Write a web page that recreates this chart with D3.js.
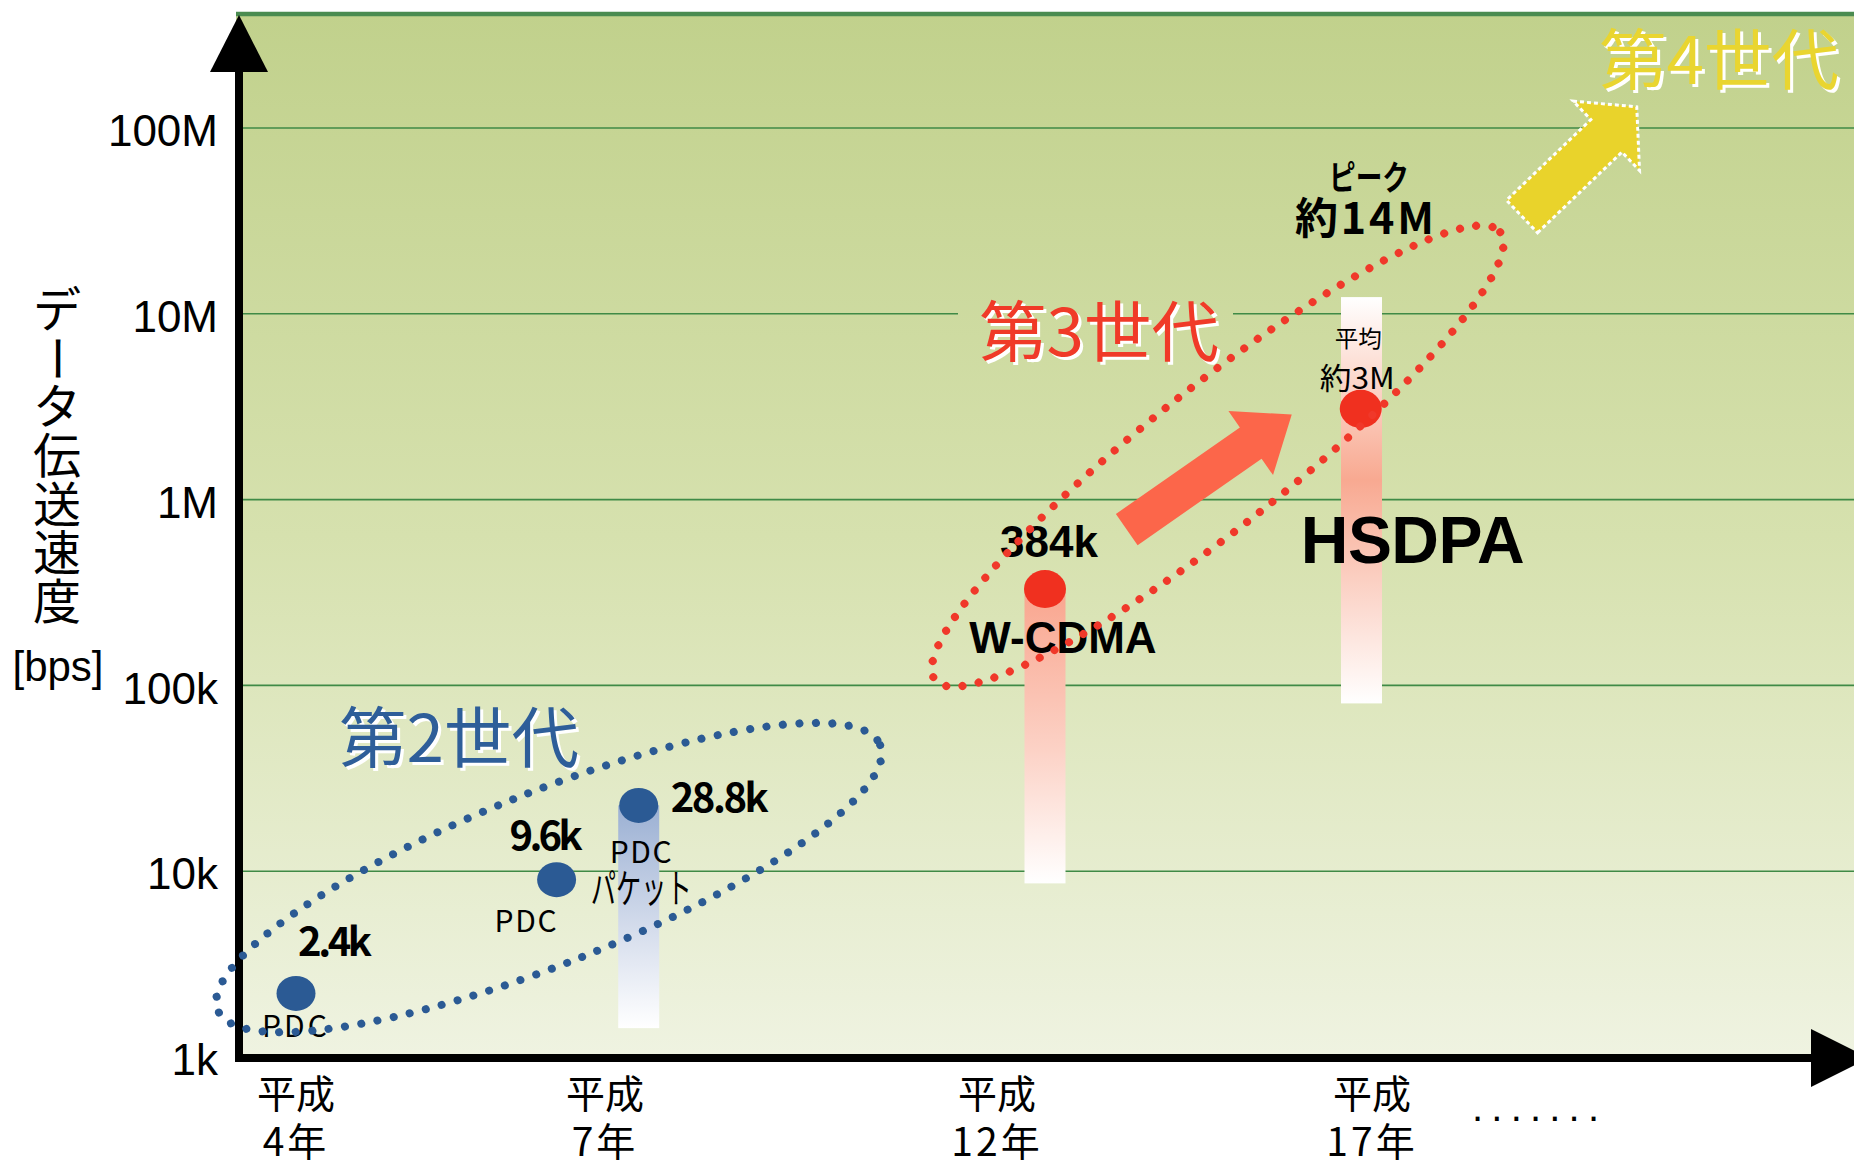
<!DOCTYPE html>
<html>
<head>
<meta charset="utf-8">
<script src="https://cdn.jsdelivr.net/npm/d3@7"></script>
<style>
  body { margin: 0; background: #fff; }
  svg { display: block; }
</style>
</head>
<body>
<div id="chart"></div>
<script>
var width = 1854,
    height = 1161;

var jp = "'Noto Sans CJK JP', sans-serif",
    latin = "'Liberation Sans', Arial, sans-serif";

// y axis (bps, log)
var yTicks = [1e3, 1e4, 1e5, 1e6, 1e7, 1e8],
    yTickLabels = ["1k", "10k", "100k", "1M", "10M", "100M"];

// x axis (Heisei year)
var years = [4, 7, 12, 17],
    yearLabels = ["4年", "7年", "12年", "17年"];

// measured points
var ptYear  = [4.0, 6.53, 7.43, 12.64, 16.85],
    ptValue = [2200, 9000, 22600, 330000, 3080000],
    ptGen   = [2, 2, 2, 3, 3];

// gradient columns
var barYear   = [7.43, 12.64, 16.86],
    barTop    = [22600, 330000, 12300000],
    barBottom = [1430, 8600, 80000],
    barFill   = ["barBlue", "barRed", "barHsdpa"];

// generation ellipses: end points (year, bps)
var ellBlue = [[3.24, 1790], [10.51, 47700]],
    ellRed  = [[11.21, 106900], [18.71, 27500000]];

// arrows: tail / tip (year, bps)
var arrowRed    = [[13.73, 690000], [15.93, 2870000]],
    arrowYellow = [[19.0, 33400000], [20.53, 130000000]];

var axisX = 239,
    plotTop = 14,
    blue = "#2b5a94",
    red = "#f0301f";

var x = d3.scaleLinear()
  .domain(years)
  .range([296, 605, 997, 1372]);

var y = d3.scaleLog()
  .domain([1e3, 1e8])
  .range([1057, 128]);

var svg = d3.select("#chart")
  .append("svg")
  .attr("width", width)
  .attr("height", height);

var defs = svg.append("defs");

function grad(id, stops, user) {
  var g = defs.append("linearGradient")
    .attr("id", id)
    .attr("x1", 0).attr("x2", 0);
  if (user) {
    g.attr("gradientUnits", "userSpaceOnUse")
      .attr("y1", user[0]).attr("y2", user[1]);
  } else {
    g.attr("y1", 0).attr("y2", 1);
  }
  stops.forEach(function(s) {
    g.append("stop").attr("offset", s[0]).attr("stop-color", s[1]);
  });
}

grad("bg", [[0, "#c1d18c"], [0.5, "#d6e1ae"], [1, "#eff3e1"]], [plotTop, y(1e3)]);
grad("barBlue", [[0, "#9bb0d3"], [0.6, "#d9e0ee"], [1, "#ffffff"]]);
grad("barRed", [[0, "#f9a58e"], [0.55, "#fcd2c6"], [1, "#ffffff"]]);
grad("barHsdpa", [[0, "#ffffff"], [0.15, "#fde2d9"], [0.45, "#f8a991"], [1, "#ffffff"]]);

// background
svg.append("rect")
  .attr("x", axisX - 3)
  .attr("y", plotTop)
  .attr("width", width - axisX + 3)
  .attr("height", y(1e3) - plotTop)
  .style("fill", "url(#bg)");

svg.append("line")
  .attr("x1", axisX - 3).attr("x2", width)
  .attr("y1", plotTop).attr("y2", plotTop)
  .style("stroke", "#4a8b50")
  .style("stroke-width", 4.5);

// grid
svg.selectAll(".grid")
  .data(yTicks.slice(1))
  .enter().append("line")
  .attr("class", "grid")
  .attr("x1", axisX).attr("x2", width)
  .attr("y1", function(d) { return y(d); })
  .attr("y2", function(d) { return y(d); })
  .style("stroke", "#3f8a46")
  .style("stroke-width", 1.6);

// cover behind 第3世代
svg.append("rect")
  .attr("x", 958).attr("y", y(1e7) - 8)
  .attr("width", 275).attr("height", 16)
  .style("fill", "url(#bg)");

// columns
svg.selectAll(".bar")
  .data(barYear)
  .enter().append("rect")
  .attr("class", "bar")
  .attr("x", function(d) { return x(d) - 20.5; })
  .attr("y", function(d, i) { return y(barTop[i]); })
  .attr("width", 41)
  .attr("height", function(d, i) { return y(barBottom[i]) - y(barTop[i]); })
  .style("fill", function(d, i) { return "url(#" + barFill[i] + ")"; });

// points
svg.selectAll(".pt")
  .data(ptYear)
  .enter().append("ellipse")
  .attr("class", "pt")
  .attr("cx", function(d) { return x(d); })
  .attr("cy", function(d, i) { return y(ptValue[i]); })
  .attr("rx", function(d, i) { return ptGen[i] == 2 ? 19.5 : 21; })
  .attr("ry", function(d, i) { return ptGen[i] == 2 ? 17.5 : 19; })
  .style("fill", function(d, i) { return ptGen[i] == 2 ? blue : red; });

// arrows
function arrowPath(a, shaftW, headW, headL) {
  var p0 = [x(a[0][0]), y(a[0][1])], p1 = [x(a[1][0]), y(a[1][1])];
  var dx = p1[0] - p0[0], dy = p1[1] - p0[1], len = Math.hypot(dx, dy);
  var ux = dx / len, uy = dy / len, nx = -uy, ny = ux;
  var bx = p1[0] - ux * headL, by = p1[1] - uy * headL;
  var pts = [
    [p0[0] + nx * shaftW / 2, p0[1] + ny * shaftW / 2],
    [bx + nx * shaftW / 2, by + ny * shaftW / 2],
    [bx + nx * headW / 2, by + ny * headW / 2],
    p1,
    [bx - nx * headW / 2, by - ny * headW / 2],
    [bx - nx * shaftW / 2, by - ny * shaftW / 2],
    [p0[0] - nx * shaftW / 2, p0[1] - ny * shaftW / 2]
  ];
  return "M" + pts.join("L") + "Z";
}

svg.append("path")
  .attr("d", arrowPath(arrowRed, 38, 78, 50))
  .style("fill", "#fc664a");

svg.append("path")
  .attr("d", arrowPath(arrowYellow, 45, 96, 42))
  .style("fill", "#e9d32b")
  .style("stroke", "#fff")
  .style("stroke-width", 3)
  .style("stroke-dasharray", "4,3");

// text helper
function label(t, px, py, size, opt) {
  opt = opt || {};
  var el = svg.append("text")
    .attr("x", px).attr("y", py)
    .style("font-family", opt.family || jp)
    .style("font-size", size + "px")
    .style("font-weight", opt.bold ? "bold" : "normal")
    .style("fill", opt.color || "#000")
    .style("text-anchor", opt.anchor || "start")
    .text(t);
  if (opt.len) {
    el.attr("textLength", opt.len)
      .attr("lengthAdjust", opt.squeeze ? "spacingAndGlyphs" : "spacing");
  }
  return el;
}

function genLabel(t, px, py, color) {
  label(t, px + 3, py + 3, 66, { color: "#fff", len: 240, squeeze: true });
  label(t, px, py, 66, { color: color, len: 240, squeeze: true });
}

genLabel("第2世代", 339, 762, "#2e5e99");
genLabel("第3世代", 979, 356, "#f03a28");
genLabel("第4世代", 1599, 84, "#e9d530");

// point labels
var p = ptYear.map(function(d, i) { return [x(d), y(ptValue[i])]; });

label("2.4k", p[0][0] + 2, p[0][1] - 37, 40, { bold: true, len: 74 });
label("PDC", p[0][0] - 34, p[0][1] + 44, 30, { len: 65 });
label("9.6k", p[1][0] - 47, p[1][1] - 30, 40, { bold: true, len: 73 });
label("PDC", p[1][0] - 62, p[1][1] + 52, 30, { len: 62 });
label("28.8k", p[2][0] + 32, p[2][1] + 7, 40, { bold: true, len: 98 });
label("PDC", p[2][0] - 29, p[2][1] + 58, 30, { len: 62 });
label("パケット", p[2][0] - 48, p[2][1] + 98, 40, { len: 101, squeeze: true });

label("384k", p[3][0] + 4, p[3][1] - 32, 44, { bold: true, family: latin, anchor: "middle" });
label("W-CDMA", p[3][0] + 18, p[3][1] + 64, 44, { bold: true, family: latin, anchor: "middle" });

label("平均", p[4][0] - 26, p[4][1] - 62, 23, { len: 47, squeeze: true });
label("約3M", p[4][0] - 41, p[4][1] - 20, 30, { len: 75, squeeze: true });
label("HSDPA", p[4][0] - 60, p[4][1] + 154, 66, { bold: true, family: latin, len: 224 });
label("ピーク", 1329, 190, 34, { bold: true, len: 80, squeeze: true });
label("約14M", 1295, 234, 43, { bold: true, len: 139 });

// generation ellipses
function dottedEllipse(ends, b, color) {
  var a0 = [x(ends[0][0]), y(ends[0][1])], a1 = [x(ends[1][0]), y(ends[1][1])];
  var cx = (a0[0] + a1[0]) / 2, cy = (a0[1] + a1[1]) / 2;
  var ang = Math.atan2(a1[1] - a0[1], a1[0] - a0[0]) * 180 / Math.PI;
  svg.append("ellipse")
    .attr("cx", cx).attr("cy", cy)
    .attr("rx", Math.hypot(a1[0] - a0[0], a1[1] - a0[1]) / 2)
    .attr("ry", b)
    .attr("transform", "rotate(" + ang + "," + cx + "," + cy + ")")
    .style("fill", "none")
    .style("stroke", color)
    .style("stroke-width", 8)
    .style("stroke-linecap", "round")
    .style("stroke-dasharray", "0,16.5");
}

// AXES
var yAxis = d3.axisLeft(y)
  .tickValues(yTicks)
  .tickFormat(function(d, i) { return yTickLabels[i]; })
  .tickSize(0)
  .tickPadding(21);

var gy = svg.append("g")
  .attr("transform", "translate(" + axisX + ",0)")
  .call(yAxis);
gy.select(".domain").remove();
gy.selectAll("text")
  .attr("dy", "0.4em")
  .style("font-family", latin)
  .style("font-size", "44px")
  .style("fill", "#000");

svg.append("line")
  .attr("x1", axisX).attr("x2", axisX)
  .attr("y1", 70).attr("y2", y(1e3) + 5)
  .style("stroke", "#000")
  .style("stroke-width", 8);

svg.append("path")
  .attr("d", "M" + (axisX - 29) + ",72L" + (axisX + 29) + ",72L" + axisX + ",15Z")
  .style("fill", "#000");

svg.append("line")
  .attr("x1", axisX - 4).attr("x2", 1813)
  .attr("y1", y(1e3) + 1).attr("y2", y(1e3) + 1)
  .style("stroke", "#000")
  .style("stroke-width", 8);

svg.append("path")
  .attr("d", "M1811," + (y(1e3) - 28) + "L1811," + (y(1e3) + 30) + "L1869," + (y(1e3) + 1) + "Z")
  .style("fill", "#000");

// x labels
svg.selectAll(".xl1")
  .data(years)
  .enter().append("text")
  .attr("x", function(d) { return x(d); })
  .attr("y", 1108)
  .style("font-family", jp)
  .style("font-size", "39px")
  .style("text-anchor", "middle")
  .text("平成");

svg.selectAll(".xl2")
  .data(years)
  .enter().append("text")
  .attr("x", function(d) { return x(d); })
  .attr("y", 1156)
  .style("font-family", jp)
  .style("font-size", "39px")
  .style("letter-spacing", "3px")
  .style("text-anchor", "middle")
  .text(function(d, i) { return yearLabels[i]; });

label(".......", 1472, 1121, 40, { family: latin, len: 127 });

// y title (vertical)
var title = "データ伝送速度".split("");
svg.selectAll(".yt")
  .data(title)
  .enter().append("text")
  .attr("x", 57)
  .attr("y", function(d, i) { return 310 + i * 48.6; })
  .attr("dy", "0.36em")
  .attr("transform", function(d, i) {
    return d == "ー" ? "rotate(90,57," + (310 + i * 48.6) + ")" : null;
  })
  .style("font-family", jp)
  .style("font-size", "48px")
  .style("text-anchor", "middle")
  .text(function(d) { return d; });

label("[bps]", 58, 681, 42, { family: latin, anchor: "middle" });

dottedEllipse(ellBlue, 86, "#2b5a94");
dottedEllipse(ellRed, 70, "#f0382a");
</script>
</body>
</html>
